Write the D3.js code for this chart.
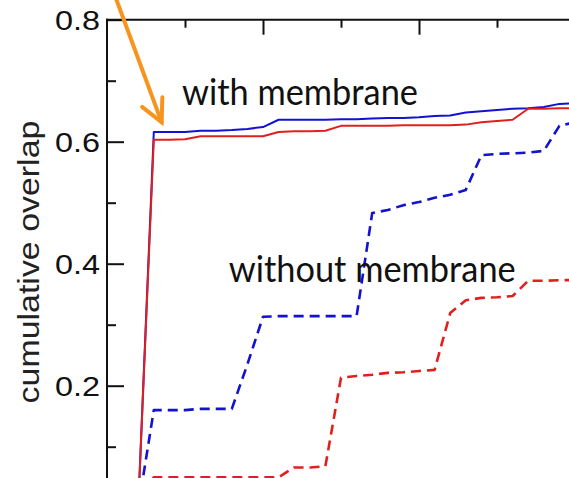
<!DOCTYPE html>
<html>
<head>
<meta charset="utf-8">
<script src="https://cdn.jsdelivr.net/npm/d3@7"></script>
<style>
  html, body { margin: 0; padding: 0; background: #fff; }
  svg { display: block; }
</style>
</head>
<body>
<div id="chart"></div>
<script>
// ── Data (x = sample index, y = cumulative overlap) ──
const steps = d3.range(0, 31);

const withBlue = [0, 0, 0, 0.616, 0.616, 0.616, 0.618, 0.618, 0.619, 0.621,
  0.624, 0.636, 0.636, 0.636, 0.636, 0.637, 0.637, 0.638, 0.639, 0.639,
  0.640, 0.642, 0.643, 0.648, 0.650, 0.652, 0.654, 0.655, 0.657, 0.662, 0.663];

const withRed = [0, 0, 0, 0.603, 0.603, 0.604, 0.609, 0.609, 0.609, 0.609,
  0.609, 0.616, 0.617, 0.617, 0.618, 0.626, 0.626, 0.626, 0.626, 0.627,
  0.627, 0.627, 0.627, 0.628, 0.632, 0.634, 0.636, 0.654, 0.654, 0.655, 0.655];

const withoutBlue = [0, 0, 0, 0.160, 0.160, 0.160, 0.162, 0.162, 0.162, 0.235,
  0.313, 0.314, 0.314, 0.314, 0.314, 0.314, 0.314, 0.483, 0.488, 0.496,
  0.501, 0.508, 0.513, 0.521, 0.578, 0.580, 0.581, 0.582, 0.585, 0.626, 0.632];

const withoutRed = [0, 0, 0, 0.050, 0.050, 0.050, 0.050, 0.050, 0.050, 0.050,
  0.050, 0.050, 0.066, 0.066, 0.068, 0.213, 0.216, 0.218, 0.221, 0.222,
  0.224, 0.226, 0.319, 0.340, 0.344, 0.345, 0.347, 0.372, 0.372, 0.373, 0.373];

const yTicks = [0.2, 0.4, 0.6, 0.8];
const yMinor = [0.1, 0.3, 0.5, 0.7];
const xTicks = [10, 20, 30];
const xMinor = [5, 15, 25];

const series = [
  { vals: withBlue, color: "#1212d0", dash: null },
  { vals: withRed, color: "#e0201e", dash: null },
  { vals: withoutBlue, color: "#1212d0", dash: "10,6" },
  { vals: withoutRed, color: "#e0201e", dash: "10,6" },
];

// ── Layout ──
const W = 569, H = 478;
const x = d3.scaleLinear().domain([0, 30]).range([107, 575]);
const y = d3.scaleLinear().domain([0, 0.8]).range([507.7, 19.7]);

const svg = d3.select("#chart").append("svg")
  .attr("width", W).attr("height", H);

svg.append("defs").append("clipPath").attr("id", "plot")
  .append("rect")
  .attr("x", x(0)).attr("y", y(0.8))
  .attr("width", W - x(0)).attr("height", H - y(0.8));

// ── Lines ──
const line = d3.line().x((d, i) => x(steps[i])).y((d) => y(d));
const lG = svg.append("g").attr("clip-path", "url(#plot)");
series.forEach(({ vals, color, dash }) => {
  lG.append("path")
    .datum(vals)
    .attr("d", line)
    .attr("fill", "none")
    .attr("stroke", color)
    .attr("stroke-width", dash ? 2.6 : 2)
    .attr("stroke-dasharray", dash)
    .attr("stroke-linejoin", "round");
});

// ── Axes (ticks pointing inward) ──
const yAx = svg.append("g").attr("transform", `translate(${x(0)},0)`)
  .call(d3.axisRight(y).tickValues(yTicks).tickSize(17).tickFormat(""));
const yAxMinor = svg.append("g").attr("transform", `translate(${x(0)},0)`)
  .call(d3.axisRight(y).tickValues(yMinor).tickSize(9).tickFormat(""));
const xAx = svg.append("g").attr("transform", `translate(0,${y(0.8)})`)
  .call(d3.axisBottom(x).tickValues(xTicks).tickSize(15).tickFormat(""));
const xAxMinor = svg.append("g").attr("transform", `translate(0,${y(0.8)})`)
  .call(d3.axisBottom(x).tickValues(xMinor).tickSize(8).tickFormat(""));

[yAx, yAxMinor, xAx, xAxMinor].forEach((a) => {
  a.select(".domain").remove();
  a.selectAll("line").attr("stroke", "#111").attr("stroke-width", 2);
});

// axis frame lines
svg.append("line")
  .attr("x1", x(0)).attr("x2", x(0))
  .attr("y1", y(0.8) - 1).attr("y2", H)
  .attr("stroke", "#111").attr("stroke-width", 2);
svg.append("line")
  .attr("x1", x(0) - 1).attr("x2", W)
  .attr("y1", y(0.8)).attr("y2", y(0.8))
  .attr("stroke", "#111").attr("stroke-width", 2);

// tick labels (the source font is wide, so stretch horizontally)
svg.append("g").selectAll("text")
  .data(yTicks)
  .join("text")
  .attr("transform", (d) => `translate(${x(0) - 7},${y(d) + 10.5}) scale(1.2,1)`)
  .attr("text-anchor", "end")
  .attr("font-family", "Liberation Sans, Arial, sans-serif")
  .attr("font-size", 27)
  .attr("fill", "#111")
  .text((d) => d.toFixed(1));

// y axis title
svg.append("text")
  .attr("transform", "translate(39,262) rotate(-90) scale(1.17,1)")
  .attr("text-anchor", "middle")
  .attr("font-family", "Liberation Sans, Arial, sans-serif")
  .attr("font-size", 29)
  .attr("fill", "#222")
  .text("cumulative overlap");

// ── Annotations ──
const note = (label, xv, yv) =>
  svg.append("text")
    .attr("transform", `translate(${x(xv)},${y(yv)}) scale(0.955,1)`)
    .attr("font-family", "Lato, sans-serif")
    .attr("font-size", 36)
    .attr("fill", "#111")
    .text(label);
note("with membrane", 4.8, 0.66);
note("without membrane", 7.8, 0.370);

// orange arrow
const arrow = svg.append("g")
  .attr("stroke", "#f7941d").attr("stroke-width", 4)
  .attr("stroke-linecap", "round").attr("fill", "none");
arrow.append("line")
  .attr("x1", x(0.5)).attr("y1", y(0.84))
  .attr("x2", x(3.5)).attr("y2", y(0.632));
arrow.append("path")
  .attr("d", d3.line()([
    [x(2.25), y(0.657)],
    [x(3.5), y(0.632)],
    [x(3.55), y(0.673)],
  ]));
</script>
</body>
</html>
